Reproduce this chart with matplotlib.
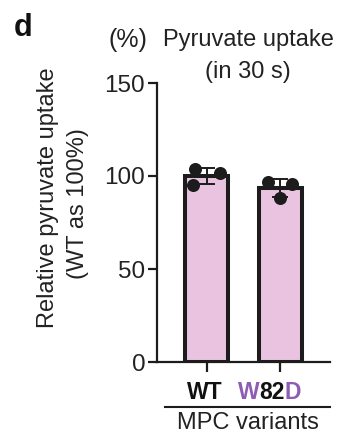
import matplotlib
matplotlib.use("Agg")
import matplotlib.pyplot as plt
import numpy as np

plt.rcParams['font.family'] = ['Liberation Sans', 'DejaVu Sans']

# ---- data ----
categories = ["WT", "W82D"]
wt_points = [103.5, 101.5, 95.0]
w82d_points = [97.0, 95.5, 88.0]
ytick_values = [0, 50, 100, 150]
ytick_labels = ["0", "50", "100", "150"]

# ---- style ----
pink = "#e9c3df"
dark = "#1c1c1c"
purple = "#8e5bb5"
jitters = [[-0.15, 0.18, -0.18], [-0.17, 0.155, 0.0]]

W, H = 343, 436
fig = plt.figure(figsize=(W / 100, H / 100), dpi=100)
ax = fig.add_axes([157 / W, 1 - 362 / H, (330 - 157) / W, (362 - 83) / H])

groups = [wt_points, w82d_points]
xs = np.arange(len(categories))
means = [np.mean(g) for g in groups]
sds = [np.std(g, ddof=1) for g in groups]

ax.bar(xs, means, width=0.59, color=pink, edgecolor=dark, linewidth=2.9, zorder=2)
ax.errorbar(xs, means, yerr=sds, fmt='none', ecolor=dark, elinewidth=1.4,
            capsize=6, capthick=1.4, zorder=3)
for xi, g, jit in zip(xs, groups, jitters):
    ax.scatter(xi + np.array(jit), g, s=88, color=dark, zorder=4, linewidths=0)

ax.set_xlim(-0.669, 1.669)
ax.set_ylim(0, 150)
ax.set_yticks(ytick_values)
ax.set_yticklabels(ytick_labels, fontsize=17.5)
ax.set_xticks(xs)
ax.set_xticklabels([])
for s in ['top', 'right']:
    ax.spines[s].set_visible(False)
for s in ['left', 'bottom']:
    ax.spines[s].set_linewidth(1.6)
    ax.spines[s].set_color(dark)
ax.tick_params(axis='y', length=6.5, width=1.6, pad=2, colors=dark, labelcolor='#222222')
ax.tick_params(axis='x', length=7, width=1.6, colors=dark)

# x tick labels (multicolor)
fig.canvas.draw()
r = fig.canvas.get_renderer()
y_lab = 381
lab_fs = 16.5

cx0 = ax.transData.transform((xs[0], 0))[0]
fig.text((cx0 - 2) / W, 1 - y_lab / H, categories[0],
         ha='center', va='top', fontsize=lab_fs, fontweight='bold', color='#111111')

pieces = [("W", purple), ("82", '#111111'), ("D", purple)]
tobjs = [fig.text(0, 1 - y_lab / H, t, fontsize=lab_fs, fontweight='bold', color=c, va='top')
         for t, c in pieces]
widths = [t.get_window_extent(r).width for t in tobjs]
cx1 = ax.transData.transform((xs[1], 0))[0] - 11
start = cx1 - sum(widths) / 2
for t, w in zip(tobjs, widths):
    t.set_x(start / W)
    start += w

# group underline and label
fig.add_artist(plt.Line2D([165 / W, 330 / W], [1 - 407 / H, 1 - 407 / H], color=dark, lw=1.5))
fig.text(248 / W, 1 - 423 / H, "MPC variants", ha='center', va='center', fontsize=17, color='#222222')

# y label
fig.text(48 / W, 1 - 198 / H, "Relative pyruvate uptake", rotation=90, ha='center', va='center',
         fontsize=17, color='#222222')
fig.text(78 / W, 1 - 204 / H, "(WT as 100%)", rotation=90, ha='center', va='center',
         fontsize=17, color='#222222')

# title and unit
fig.text(128 / W, 1 - 40 / H, "(%)", ha='center', va='center', fontsize=18, color='#222222')
fig.text(248 / W, 1 - 40 / H, "Pyruvate uptake", ha='center', va='center', fontsize=17, color='#222222')
fig.text(248 / W, 1 - 72 / H, "(in 30 s)", ha='center', va='center', fontsize=17, color='#222222')

# panel letter
fig.text(23 / W, 1 - 28 / H, "d", ha='center', va='center', fontsize=22, fontweight='bold', color='#111111')

fig.savefig("out.png", dpi=100)
